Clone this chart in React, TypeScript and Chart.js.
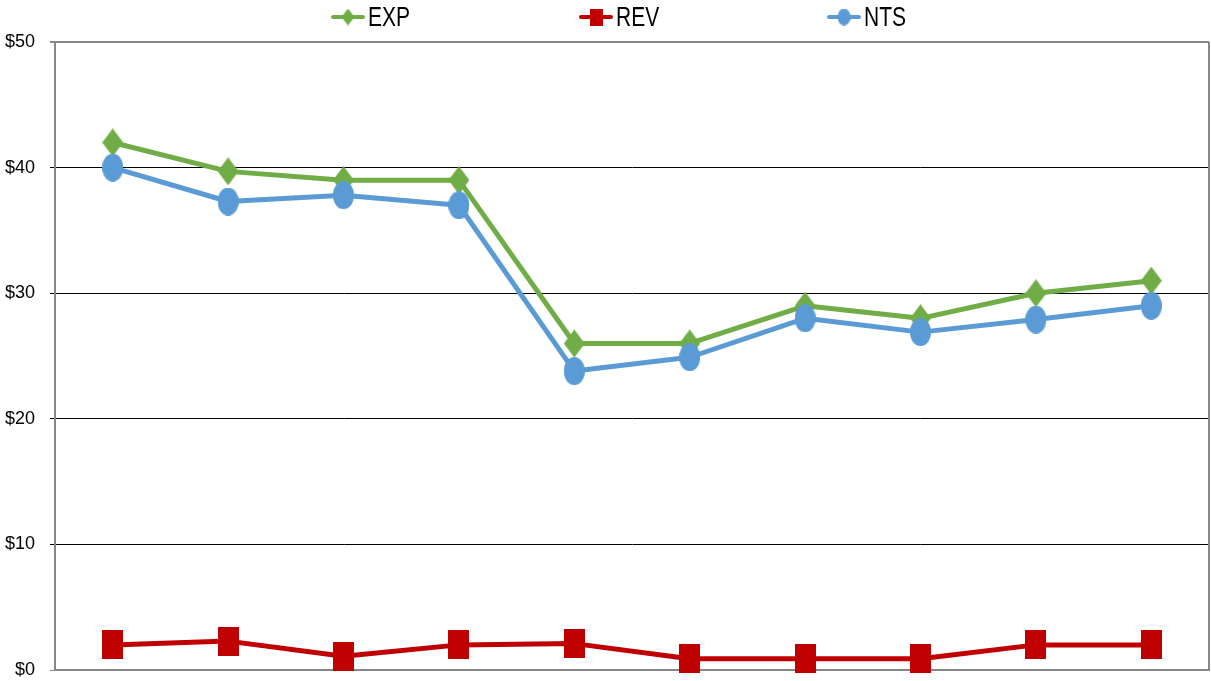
import React, { useEffect, useRef } from "react";
import { Chart, registerables } from "chart.js";

Chart.register(...registerables);

// ---- data ----
const categories = ["1", "2", "3", "4", "5", "6", "7", "8", "9", "10"];
const seriesNames = ["EXP", "REV", "NTS"];
const expValues = [42, 39.7, 39, 39, 26, 26, 29, 28, 30, 31];
const revValues = [2, 2.3, 1.1, 2, 2.1, 0.9, 0.9, 0.9, 2, 2];
const ntsValues = [40, 37.3, 37.8, 37, 23.8, 24.9, 28, 26.9, 27.9, 29];
const yMin = 0;
const yMax = 50;
const yStep = 10;

const COLORS = ["#70AD47", "#C00000", "#5B9BD5"];
const SHAPES = ["diamond", "square", "ellipse"];
const FONT_FAMILY = "'Liberation Sans', Arial, sans-serif";

function makeMarker(shape: string, color: string, w: number, h: number): HTMLCanvasElement {
  const c = document.createElement("canvas");
  c.width = w;
  c.height = h;
  const ctx = c.getContext("2d")!;
  ctx.fillStyle = color;
  ctx.beginPath();
  if (shape === "diamond") {
    ctx.moveTo(w / 2, 0);
    ctx.lineTo(w, h / 2);
    ctx.lineTo(w / 2, h);
    ctx.lineTo(0, h / 2);
    ctx.closePath();
  } else if (shape === "square") {
    ctx.rect(0, 0, w, h);
  } else {
    ctx.ellipse(w / 2, h / 2, w / 2, h / 2, 0, 0, Math.PI * 2);
  }
  ctx.fill();
  return c;
}

const LEGEND_START = 331;
const LEGEND_STEP = 248;
const LEGEND_LINE = 34;
const LEGEND_Y = 17;

export default function App() {
  const ref = useRef<HTMLCanvasElement | null>(null);

  useEffect(() => {
    if (!ref.current) return;
    const markerSizes = [
      [21, 28],
      [21, 29],
      [21, 28],
    ];
    const markers = SHAPES.map((s, i) => makeMarker(s, COLORS[i], markerSizes[i][0], markerSizes[i][1]));
    const legendMarkers = SHAPES.map((s, i) => makeMarker(s, COLORS[i], 13, 17));
    const values = [expValues, revValues, ntsValues];
    const orders = [2, 1, 0];

    const legendPlugin = {
      id: "lineLegend",
      afterDraw(chart: any) {
        const ctx = chart.ctx;
        chart.data.datasets.forEach((ds: any, i: number) => {
          const x0 = LEGEND_START + i * LEGEND_STEP;
          ctx.save();
          ctx.strokeStyle = ds.borderColor;
          ctx.lineWidth = 4;
          ctx.lineCap = "round";
          ctx.beginPath();
          ctx.moveTo(x0 + 2, LEGEND_Y);
          ctx.lineTo(x0 + LEGEND_LINE - 2, LEGEND_Y);
          ctx.stroke();
          const m = legendMarkers[i];
          ctx.drawImage(m, x0 + LEGEND_LINE / 2 - m.width / 2, LEGEND_Y - m.height / 2);
          ctx.fillStyle = "#000";
          ctx.font = `28px ${FONT_FAMILY}`;
          ctx.textBaseline = "alphabetic";
          ctx.textAlign = "left";
          ctx.translate(x0 + LEGEND_LINE + 3, LEGEND_Y + 9);
          ctx.scale(0.75, 1);
          ctx.fillText(ds.label, 0, 0);
          ctx.restore();
        });
      },
    };

    const framePlugin = {
      id: "frame",
      beforeDatasetsDraw(chart: any) {
        const { ctx, chartArea } = chart;
        ctx.save();
        ctx.strokeStyle = "#868686";
        ctx.lineWidth = 2;
        ctx.beginPath();
        ctx.moveTo(chartArea.right, chartArea.top);
        ctx.lineTo(chartArea.right, chartArea.bottom);
        ctx.stroke();
        ctx.restore();
      },
    };

    const gridColor = (c: any) => {
      const v = c.tick ? c.tick.value : 0;
      return v === yMax || v === yMin ? "#868686" : "#000000";
    };

    const chart = new Chart(ref.current, {
      type: "line",
      data: {
        labels: categories,
        datasets: seriesNames.map((name, i) => ({
          label: name,
          data: values[i],
          borderColor: COLORS[i],
          backgroundColor: COLORS[i],
          borderWidth: 5,
          borderJoinStyle: "round" as const,
          borderCapStyle: "round" as const,
          pointStyle: markers[i] as any,
          pointRadius: 10,
          pointBorderWidth: 0,
          pointHoverRadius: 10,
          tension: 0,
          order: orders[i],
          clip: false as any,
        })),
      },
      options: {
        animation: false,
        responsive: true,
        maintainAspectRatio: false,
        layout: { autoPadding: false, padding: { top: 42, right: 2, bottom: 11, left: 0 } },
        plugins: {
          legend: { display: false },
          tooltip: { enabled: false },
        },
        scales: {
          x: {
            type: "category",
            offset: true,
            grid: { display: false, drawTicks: false },
            border: { display: true, color: "#868686", width: 2 },
            ticks: { display: false },
            afterFit: (scale: any) => {
              scale.height = 0;
              scale.paddingLeft = 0;
              scale.paddingRight = 0;
            },
          },
          y: {
            min: yMin,
            max: yMax,
            ticks: {
              stepSize: yStep,
              padding: 15,
              color: "#000",
              font: { family: FONT_FAMILY, size: 18 },
              callback: (v: any) => "$" + v,
            },
            grid: {
              color: gridColor,
              tickColor: gridColor,
              lineWidth: (c: any) => (c.tick && c.tick.value === yMax ? 2 : 1),
              tickLength: 5,
              drawTicks: true,
            },
            border: { display: true, color: "#868686", width: 2 },
            afterFit: (scale: any) => {
              scale.width = 55;
              scale.paddingTop = 0;
              scale.paddingBottom = 0;
            },
          },
        },
      },
      plugins: [legendPlugin, framePlugin],
    });
    return () => chart.destroy();
  }, []);

  return (
    <div style={{ position: "fixed", left: 0, top: 0, width: 1211, height: 681, background: "#fff" }}>
      <canvas ref={ref} />
    </div>
  );
}
